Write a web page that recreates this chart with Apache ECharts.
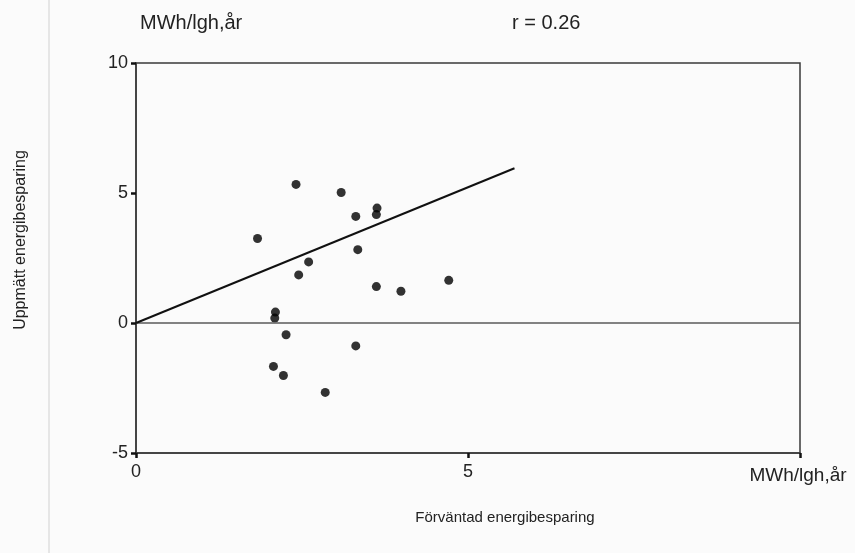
<!DOCTYPE html>
<html>
<head>
<meta charset="utf-8">
<script src="https://cdn.jsdelivr.net/npm/echarts@6/dist/echarts.min.js"></script>
<style>
  html, body { margin: 0; padding: 0; background: #fbfbfb; }
  #chart { width: 855px; height: 553px; }
</style>
</head>
<body>
<div id="chart"></div>
<script>
// Förväntad (x) och uppmätt (y) energibesparing per lägenhet, MWh/lgh,år
const expectedSaving = [2.41, 3.09, 3.63, 3.62, 3.31, 1.83, 3.34, 2.60, 2.45, 4.71,
                        3.62, 3.99, 2.10, 2.09, 2.26, 3.31, 2.07, 2.22, 2.85];
const measuredSaving = [5.33, 5.02, 4.42, 4.17, 4.10, 3.25, 2.82, 2.35, 1.85, 1.64,
                        1.40, 1.22, 0.42, 0.19, -0.45, -0.88, -1.67, -2.02, -2.67];

// Regressionslinje genom origo
const fitX = [0, 5.7];
const fitY = [0, 5.95];

// Nollinje
const zeroX = [0, 10];
const zeroY = [0, 0];

const xTicks = [0, 5];
const yTicks = [-5, 0, 5, 10];

const corrText = 'r = 0.26';
const unitText = 'MWh/lgh,år';
const xTitle = 'Förväntad energibesparing';
const yTitle = 'Uppmätt energibesparing';

const points = expectedSaving.map((x, i) => [x, measuredSaving[i]]);
const fitLine = fitX.map((x, i) => [x, fitY[i]]);
const zeroLine = zeroX.map((x, i) => [x, zeroY[i]]);

const font = '"Liberation Sans", Arial, sans-serif';
const ink = '#222';

const chart = echarts.init(document.getElementById('chart'), null, { renderer: 'canvas' });
chart.setOption({
  backgroundColor: '#fbfbfb',
  animation: false,
  grid: {
    left: 136, right: 55, top: 63, bottom: 100,
    show: true, borderColor: '#3a3a3a', borderWidth: 1.5, backgroundColor: 'transparent'
  },
  xAxis: {
    type: 'value', min: 0, max: 10, interval: 5,
    axisLine: { show: true, onZero: false, lineStyle: { color: '#3a3a3a', width: 1.5 } },
    axisTick: { show: true, length: 5, lineStyle: { color: '#111', width: 2.5 } },
    axisLabel: {
      color: ink, fontFamily: font, fontSize: 18, margin: 10,
      formatter: v => (xTicks.includes(v) ? String(v) : '')
    },
    splitLine: { show: false }
  },
  yAxis: {
    type: 'value', min: -5, max: 10, interval: 5,
    axisLine: { show: true, onZero: false, lineStyle: { color: '#3a3a3a', width: 1.5 } },
    axisTick: { show: true, length: 5, lineStyle: { color: '#111', width: 2.5 } },
    axisLabel: {
      color: ink, fontFamily: font, fontSize: 18, margin: 8,
      formatter: v => (yTicks.includes(v) ? String(v) : '')
    },
    splitLine: { show: false }
  },
  graphic: [
    { type: 'line', shape: { x1: 49, y1: 0, x2: 49, y2: 553 },
      style: { stroke: '#e6e6e6', lineWidth: 2 } },
    { type: 'text', x: 140, y: 23,
      style: { text: unitText, font: '20px ' + font, fill: ink, textVerticalAlign: 'middle' } },
    { type: 'text', x: 512, y: 23,
      style: { text: corrText, font: '20px ' + font, fill: ink, textVerticalAlign: 'middle' } },
    { type: 'text', x: 798, y: 476,
      style: { text: unitText, font: '19px ' + font, fill: ink, textAlign: 'center', textVerticalAlign: 'middle' } },
    { type: 'text', x: 505, y: 518,
      style: { text: xTitle, font: '15px ' + font, fill: ink, textAlign: 'center', textVerticalAlign: 'middle' } },
    { type: 'text', x: 21, y: 240, rotation: Math.PI / 2,
      style: { text: yTitle, font: '16px ' + font, fill: ink, textAlign: 'center', textVerticalAlign: 'middle' } }
  ],
  series: [
    {
      type: 'line', data: zeroLine, symbol: 'none', silent: true,
      lineStyle: { color: '#5a5a5a', width: 1.5 }
    },
    {
      type: 'line', data: fitLine, symbol: 'none', silent: true,
      lineStyle: { color: '#111', width: 2 }
    },
    {
      type: 'scatter', data: points, symbol: 'circle', symbolSize: 9,
      itemStyle: { color: '#000' }
    }
  ]
});
</script>
</body>
</html>
